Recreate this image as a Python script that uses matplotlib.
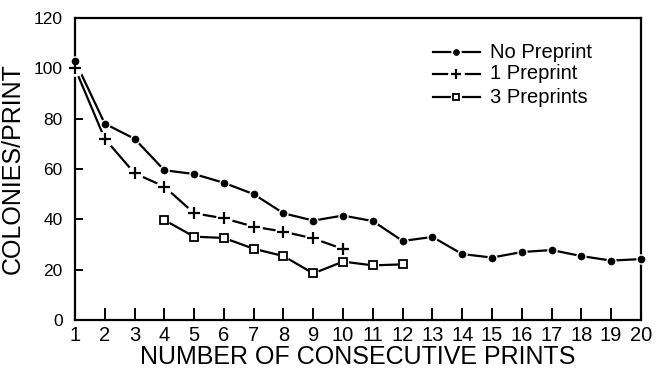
import matplotlib
matplotlib.use('Agg')
from matplotlib import pyplot as plt

matplotlib.rcParams['font.family'] = ['Liberation Sans', 'DejaVu Sans']

prints_none = list(range(1, 21))
colonies_none = [103, 78, 72, 59.5, 58, 54.5, 50, 42.4, 39.5, 41.5,
                 39.3, 31.4, 33, 26.2, 24.8, 27, 27.8, 25.4, 23.6, 24.2]

prints_one = list(range(1, 11))
colonies_one = [100, 72, 58.3, 53, 42.4, 40.4, 37.1, 35.1, 32.4, 28.2]

prints_three = list(range(4, 13))
colonies_three = [39.7, 33.1, 32.6, 28.3, 25.4, 18.5, 23.2, 21.7, 22.1]

labels = ['No Preprint', '1 Preprint', '3 Preprints']
xticks = list(range(1, 21))
yticks = [0, 20, 40, 60, 80, 100, 120]

fig = plt.figure(figsize=(6.58, 3.71), dpi=100)
ax = fig.add_axes([0.114, 0.1375, 0.860, 0.814])

lw = 1.6
styles = [
    dict(marker='o', ms=4.5, mfc='black', mec='black', mew=1.0),
    dict(marker='+', ms=8, mfc='black', mec='black', mew=1.6),
    dict(marker='s', ms=5.5, mfc='white', mec='black', mew=1.3),
]
halo = [6.5, 11, 7]
series = [(prints_none, colonies_none), (prints_one, colonies_one),
          (prints_three, colonies_three)]


def draw(xs, ys, st, hs, **kw):
    # line, then a white patch so the line breaks round the marker, then marker
    ax.plot(xs, ys, color='black', lw=lw, clip_on=False, zorder=2, **kw)
    ax.plot(xs, ys, ls='none', marker='o', ms=hs, mfc='white', mec='white',
            clip_on=False, zorder=3, **kw)
    ax.plot(xs, ys, ls='none', clip_on=False, zorder=4, **st, **kw)


for (xs, ys), st, hs in zip(series, styles, halo):
    draw(xs, ys, st, hs)

# legend drawn by hand, in axes fractions
leg_y = [0.887, 0.815, 0.737]
for y, st, hs, lab in zip(leg_y, styles, halo, labels):
    ax.plot([0.633, 0.715], [y, y], color='black', lw=lw,
            transform=ax.transAxes, zorder=2)
    ax.plot([0.674], [y], ls='none', marker='o', ms=hs, mfc='white',
            mec='white', transform=ax.transAxes, zorder=3)
    small = dict(st)
    small['ms'] = st['ms'] * 0.85
    ax.plot([0.674], [y], ls='none', transform=ax.transAxes, zorder=4, **small)
    ax.text(0.733, y, lab, transform=ax.transAxes, fontsize=14.5,
            va='center', ha='left')

ax.set_xlim(1, 20)
ax.set_ylim(0, 120)
ax.set_xticks(xticks)
ax.set_yticks(yticks)
ax.tick_params(axis='x', direction='in', length=9, width=1.4, pad=4.5,
               labelsize=14.5)
ax.tick_params(axis='y', direction='in', length=6, width=1.4, pad=9,
               labelsize=12.5)
for sp in ax.spines.values():
    sp.set_linewidth(1.6)

ax.set_xlabel('NUMBER OF CONSECUTIVE PRINTS', fontsize=18, labelpad=0)
ax.set_ylabel('COLONIES/PRINT', fontsize=18, labelpad=6)

fig.savefig('out.png', dpi=100)
